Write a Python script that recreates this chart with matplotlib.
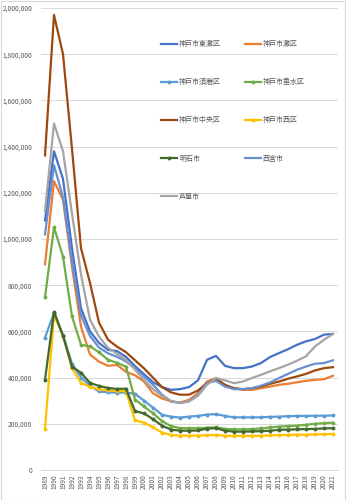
import matplotlib
matplotlib.use("Agg")
import matplotlib.pyplot as plt
from matplotlib.ticker import FuncFormatter, MultipleLocator
from matplotlib.patches import Rectangle

plt.rcParams['font.family'] = ['Noto Sans CJK JP', 'DejaVu Sans']

years = [str(y) for y in range(1989, 2022)]

higashinada = [1080000, 1380000, 1260000, 960000, 700000, 600000, 550000, 520000, 515000, 490000,
               450000, 415000, 380000, 359000, 347000, 350000, 359000, 388000, 477000, 494000,
               451000, 441000, 441000, 448000, 463000, 489000, 506000, 523000, 542000, 557000,
               567000, 586000, 589000]
nada = [890000, 1250000, 1170000, 880000, 620000, 500000, 469000, 451000, 455000, 425000,
        410000, 383000, 332000, 310000, 297000, 292000, 304000, 332000, 383000, 398000,
        365000, 354000, 347000, 347000, 354000, 361000, 369000, 373000, 380000, 386000,
        390000, 393000, 408000]
suma = [573000, 680000, 585000, 460000, 400000, 365000, 340000, 336000, 335000, 335000,
        330000, 300000, 270000, 239000, 231000, 227000, 231000, 234000, 240000, 242000,
        234000, 228000, 228000, 228000, 228000, 230000, 231000, 233000, 234000, 234000,
        235000, 235000, 236000]
tarumi = [747000, 1051000, 924000, 665000, 542000, 535000, 510000, 477000, 464000, 447000,
          305000, 275000, 245000, 212000, 190000, 181000, 181000, 181000, 183000, 185000,
          178000, 176000, 176000, 177000, 180000, 184000, 188000, 190000, 192000, 196000,
          200000, 203000, 205000]
chuo = [1362000, 1970000, 1800000, 1390000, 960000, 810000, 638000, 564000, 534000, 510000,
        475000, 440000, 400000, 359000, 336000, 326000, 326000, 344000, 376000, 395000,
        369000, 354000, 350000, 354000, 361000, 373000, 383000, 395000, 405000, 416000,
        431000, 441000, 445000]
nishi = [178000, 670000, 580000, 440000, 377000, 360000, 350000, 345000, 343000, 340000,
         215000, 205000, 185000, 162000, 152000, 149000, 149000, 149000, 151000, 152000,
         148000, 148000, 148000, 148000, 148000, 150000, 151000, 152000, 153000, 153000,
         154000, 155000, 156000]
akashi = [390000, 685000, 581000, 447000, 421000, 377000, 364000, 355000, 351000, 352000,
          255000, 245000, 220000, 192000, 175000, 170000, 170000, 171000, 179000, 181000,
          170000, 166000, 166000, 167000, 168000, 170000, 174000, 175000, 176000, 177000,
          178000, 180000, 181000]
nishinomiya = [1020000, 1320000, 1180000, 900000, 670000, 580000, 530000, 505000, 490000, 470000,
               440000, 405000, 369000, 326000, 297000, 290000, 297000, 326000, 376000, 386000,
               361000, 350000, 350000, 354000, 365000, 379000, 398000, 416000, 434000, 448000,
               460000, 463000, 475000]
ashiya = [1120000, 1500000, 1380000, 1110000, 846000, 651000, 577000, 529000, 503000, 477000,
          434000, 390000, 350000, 321000, 300000, 290000, 297000, 321000, 369000, 398000,
          388000, 376000, 383000, 398000, 412000, 427000, 441000, 456000, 473000, 492000,
          535000, 564000, 589000]

series = [
    ("神戸市東灘区", higashinada, "#4472C4", False),
    ("神戸市灘区", nada, "#ED7D31", False),
    ("神戸市須磨区", suma, "#5B9BD5", True),
    ("神戸市垂水区", tarumi, "#70AD47", True),
    ("神戸市中央区", chuo, "#9E480E", False),
    ("神戸市西区", nishi, "#FFC000", True),
    ("明石市", akashi, "#43682B", True),
    ("西宮市", nishinomiya, "#6A8FD0", False),
    ("芦屋市", ashiya, "#A5A5A5", False),
]

W, H = 346, 500
fig = plt.figure(figsize=(W / 100, H / 100), dpi=100)
ax = fig.add_axes([40.5 / W, 1 - 470 / H, (337.5 - 40.5) / W, (470 - 8) / H])

x = list(range(len(years)))
handles = []
for name, vals, col, mk in series:
    if mk:
        h, = ax.plot(x, vals, color=col, lw=1.6, marker='o', markersize=2.8,
                     markeredgewidth=0, label=name)
    else:
        h, = ax.plot(x, vals, color=col, lw=1.6, label=name)
    handles.append(h)

ax.set_xlim(-0.5, len(years) - 0.5)
ax.set_ylim(0, 2000000)
ax.yaxis.set_major_locator(MultipleLocator(200000))
ax.yaxis.set_major_formatter(FuncFormatter(lambda v, p: f"{int(v):,}"))
ax.set_xticks(x)
ax.set_xticklabels(years, rotation=90)
ax.grid(axis='y', color='#D9D9D9', lw=0.7)
ax.set_axisbelow(True)
for s in ['top', 'right', 'left']:
    ax.spines[s].set_visible(False)
ax.spines['bottom'].set_color('#D9D9D9')
ax.spines['bottom'].set_linewidth(0.7)
ax.tick_params(axis='both', length=0, colors='#595959', labelsize=4.8)
ax.tick_params(axis='y', pad=6)
ax.tick_params(axis='x', pad=3)

# row-wise legend order (Excel style): reorder for column-major filling
order = [0, 2, 4, 6, 8, 1, 3, 5, 7]
leg = fig.legend([handles[i] for i in order], [series[i][0] for i in order],
                 loc='upper left', bbox_to_anchor=(161 / W, 1 - 40 / H), ncol=2,
                 frameon=False, fontsize=5, handlelength=2.3, handletextpad=0.3,
                 columnspacing=3.4, labelspacing=4.35, borderpad=0, borderaxespad=0)
for t in leg.get_texts():
    t.set_color('#595959')

fig.patches.append(Rectangle((0.5 / W, 0.5 / H), (W - 1.5) / W, (H - 1.5) / H,
                             transform=fig.transFigure, fill=False,
                             edgecolor='#D9D9D9', lw=0.8))

fig.savefig("out.png", dpi=100)
